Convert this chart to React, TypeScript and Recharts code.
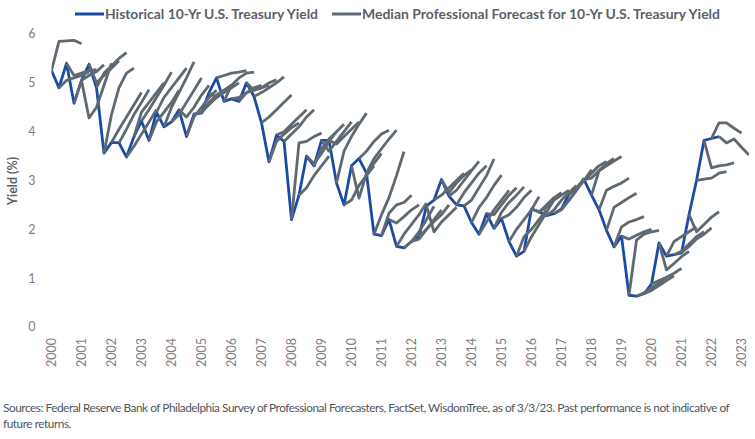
import { LineChart, Line, XAxis, YAxis } from 'recharts'

// year labels sit on every 4th quarter (q = 0, 4, 8, ...)
const yearLabels = [
  '2000', '2001', '2002', '2003', '2004', '2005', '2006', '2007', '2008', '2009', '2010', '2011',
  '2012', '2013', '2014', '2015', '2016', '2017', '2018', '2019', '2020', '2021', '2022', '2023',
]
const yieldTicks = [0, 1, 2, 3, 4, 5, 6]

// quarter-end 10-yr yield, one value per quarter
const historical = [
  5.25, 4.9, 5.4, 4.58, 5.05, 5.38, 4.9, 3.56, 3.78, 3.77, 3.48, 3.9,
  4.22, 3.82, 4.4, 4.1, 4.2, 4.45, 3.9, 4.36, 4.38, 4.8, 5.1, 4.62,
  4.67, 4.62, 5.0, 4.72, 4.18, 3.38, 3.93, 3.8, 2.2, 2.7, 3.5, 3.3,
  3.82, 3.82, 2.95, 2.5, 3.3, 3.45, 3.15, 1.9, 1.87, 2.2, 1.65, 1.62,
  1.75, 1.85, 2.48, 2.6, 3.02, 2.68, 2.5, 2.48, 2.14, 1.9, 2.32, 2.02,
  2.22, 1.75, 1.45, 1.55, 2.42, 2.36, 2.28, 2.32, 2.42, 2.72, 2.85, 3.02,
  2.7, 2.4, 1.98, 1.64, 1.86, 0.65, 0.63, 0.68, 0.88, 1.72, 1.45, 1.48,
  1.52, 2.3, 3.0, 3.82, 3.86, 3.9,
]

// survey paths: entry s covers quarters s .. s+4
const forecasts = [
  [5.25, 5.85, 5.86, 5.87, 5.8],
  [4.9, 5.05, 5.1, 5.15, 5.22],
  [5.4, 5.15, 5.2, 5.25, 5.27],
  [4.58, 5.05, 5.15, 5.23, 5.37],
  [5.05, 4.28, 4.5, 4.95, 5.4],
  [5.38, 5.0, 5.15, 5.3, 5.45],
  [4.9, 5.2, 5.35, 5.5, 5.62],
  [3.56, 4.35, 4.9, 5.2, 5.3],
  [3.78, 4.05, 4.3, 4.55, 4.8],
  [3.77, 4.05, 4.35, 4.6, 4.86],
  [3.48, 3.7, 3.95, 4.2, 4.45],
  [3.9, 4.4, 4.6, 4.8, 5.0],
  [4.22, 4.45, 4.7, 4.95, 5.22],
  [3.82, 4.2, 4.4, 4.6, 4.85],
  [4.4, 4.7, 4.9, 5.1, 5.3],
  [4.1, 4.5, 4.8, 5.1, 5.43],
  [4.2, 4.35, 4.6, 4.85, 5.1],
  [4.45, 4.3, 4.5, 4.75, 4.95],
  [3.9, 4.3, 4.5, 4.7, 4.85],
  [4.36, 4.4, 4.55, 4.7, 4.85],
  [4.38, 4.6, 4.75, 4.85, 4.95],
  [4.8, 4.7, 4.8, 4.9, 5.0],
  [5.1, 5.15, 5.2, 5.22, 5.25],
  [4.62, 4.95, 5.1, 5.2, 5.22],
  [4.67, 4.7, 4.8, 4.9, 4.95],
  [4.62, 4.8, 4.85, 4.9, 4.95],
  [5.0, 4.85, 4.9, 5.0, 5.06],
  [4.72, 4.8, 4.9, 5.0, 5.12],
  [4.18, 4.3, 4.45, 4.6, 4.75],
  [3.38, 3.8, 3.95, 4.08, 4.18],
  [3.93, 4.0, 4.15, 4.3, 4.45],
  [3.8, 3.95, 4.1, 4.3, 4.45],
  [2.2, 3.77, 3.8, 3.9, 3.97],
  [2.7, 2.85, 3.1, 3.3, 3.5],
  [3.5, 3.35, 3.55, 3.8, 4.0],
  [3.3, 3.65, 3.85, 4.0, 4.15],
  [3.82, 3.6, 3.8, 4.0, 4.2],
  [3.82, 3.75, 3.9, 4.05, 4.2],
  [2.95, 3.6, 3.9, 4.15, 4.38],
  [2.5, 2.6, 2.9, 3.1, 3.3],
  [3.3, 2.64, 3.15, 3.35, 3.55],
  [3.45, 3.6, 3.8, 3.95, 4.03],
  [3.15, 3.45, 3.65, 3.85, 4.03],
  [1.9, 2.3, 2.65, 3.1, 3.59],
  [1.87, 2.33, 2.5, 2.55, 2.7],
  [2.2, 2.13, 2.26, 2.4, 2.5],
  [1.65, 1.9, 2.1, 2.3, 2.54],
  [1.62, 1.75, 1.95, 2.2, 2.47],
  [1.75, 1.8, 2.0, 2.2, 2.4],
  [1.85, 2.0, 2.16, 2.3, 2.5],
  [2.48, 1.95, 2.15, 2.3, 2.45],
  [2.6, 2.7, 2.85, 3.0, 3.15],
  [3.02, 2.75, 2.95, 3.1, 3.22],
  [2.68, 2.8, 3.0, 3.2, 3.39],
  [2.5, 2.75, 2.95, 3.15, 3.3],
  [2.48, 2.6, 2.85, 3.1, 3.44],
  [2.14, 2.45, 2.65, 2.9, 3.11],
  [1.9, 2.15, 2.4, 2.6, 2.8],
  [2.32, 2.3, 2.5, 2.7, 2.85],
  [2.02, 2.35, 2.55, 2.7, 2.87],
  [2.22, 2.3, 2.45, 2.65, 2.8],
  [1.75, 2.0, 2.2, 2.4, 2.67],
  [1.45, 1.85, 2.0, 2.2, 2.4],
  [1.55, 1.85, 2.1, 2.35, 2.6],
  [2.42, 2.35, 2.5, 2.65, 2.75],
  [2.36, 2.45, 2.6, 2.7, 2.8],
  [2.28, 2.4, 2.6, 2.75, 2.9],
  [2.32, 2.4, 2.6, 2.8, 3.05],
  [2.42, 2.6, 2.8, 3.0, 3.22],
  [2.72, 2.85, 3.0, 3.15, 3.3],
  [2.85, 3.0, 3.15, 3.3, 3.39],
  [3.02, 3.05, 3.2, 3.35, 3.45],
  [2.7, 3.2, 3.3, 3.4, 3.49],
  [2.4, 2.8, 2.88, 2.95, 3.05],
  [1.98, 2.45, 2.55, 2.65, 2.74],
  [1.64, 2.05, 2.15, 2.2, 2.26],
  [1.86, 1.8, 1.88, 1.95, 2.0],
  [0.65, 1.78, 1.9, 1.95, 1.98],
  [0.63, 0.7, 0.8, 0.9, 1.0],
  [0.68, 0.75, 0.85, 0.95, 1.05],
  [0.88, 0.95, 1.02, 1.1, 1.2],
  [1.72, 1.17, 1.3, 1.44, 1.55],
  [1.45, 1.75, 1.85, 1.95, 2.05],
  [1.48, 1.55, 1.7, 1.85, 1.95],
  [1.52, 1.65, 1.8, 1.9, 2.03],
  [2.3, 1.95, 2.1, 2.25, 2.36],
  [3.0, 3.03, 3.05, 3.15, 3.18],
  [3.82, 3.26, 3.3, 3.32, 3.36],
  [3.86, 4.18, 4.18, 4.07, 3.97],
  [3.9, 3.77, 3.85, 3.68, 3.52],
]

const BLUE = '#1c4ba6'
const GRAY = '#5f6972'
const TEXT = '#5b6168'
const FONT = 'Lato, "Open Sans", sans-serif'

const historicalData = historical.map((v, q) => ({ q, v }))
const forecastData = forecasts.map((vals, s) => vals.map((v, i) => ({ q: s + i, v })))
const yearTicks = yearLabels.map((_, i) => i * 4)

function YearTick({ x, y, payload }: any) {
  const ty = y + 11
  return (
    <text
      x={x}
      y={ty}
      transform={`rotate(-90 ${x} ${ty})`}
      textAnchor="end"
      dy="0.35em"
      fill="#808080"
      fontSize={12.5}
      fontFamily={FONT}
    >
      {yearLabels[Math.round(payload.value / 4)]}
    </text>
  )
}

export default function App() {
  return (
    <div style={{ position: 'absolute', left: 0, top: 0, width: 755, height: 439, background: '#fff' }}>
      <LineChart width={755} height={439} margin={{ top: 34, right: 6, bottom: 67, left: 21.5 }}>
        <XAxis
          type="number"
          dataKey="q"
          domain={[0, 93]}
          ticks={yearTicks}
          interval={0}
          height={45}
          axisLine={false}
          tickLine={false}
          tickSize={0}
          tickMargin={0}
          tick={<YearTick />}
          allowDataOverflow
        />
        <YAxis
          type="number"
          domain={[0, 6]}
          ticks={yieldTicks}
          width={30}
          axisLine={false}
          tickLine={false}
          tickSize={0}
          tickMargin={16}
          tick={{ fill: '#808080', fontSize: 12.5, fontFamily: FONT }}
        />
        <Line
          data={historicalData}
          dataKey="v"
          stroke={BLUE}
          strokeWidth={2.8}
          strokeLinejoin="round"
          dot={false}
          activeDot={false}
          isAnimationActive={false}
        />
        {forecastData.map((d, s) => (
          <Line
            key={s}
            data={d}
            dataKey="v"
            stroke={GRAY}
            strokeWidth={2.8}
            strokeLinejoin="round"
            dot={false}
            activeDot={false}
            isAnimationActive={false}
          />
        ))}
      </LineChart>
      <svg
        width={755}
        height={439}
        style={{ position: 'absolute', left: 0, top: 0, pointerEvents: 'none' }}
      >
        <g fontFamily={FONT} fontWeight={700} fontSize={13.5} fill={TEXT}>
          <line x1={75} x2={104} y1={14} y2={14} stroke={BLUE} strokeWidth={3} />
          <text x={105} y={14} dy="0.35em" textLength={213} lengthAdjust="spacingAndGlyphs">
            Historical 10-Yr U.S. Treasury Yield
          </text>
          <line x1={332} x2={361} y1={14} y2={14} stroke={GRAY} strokeWidth={3} />
          <text x={362} y={14} dy="0.35em" textLength={358} lengthAdjust="spacingAndGlyphs">
            Median Professional Forecast for 10-Yr U.S. Treasury Yield
          </text>
          <text
            x={13}
            y={181}
            transform="rotate(-90 13 181)"
            textAnchor="middle"
            dy="0.35em"
            fontSize={12.5}
          >
            Yield (%)
          </text>
        </g>
        <g fontFamily={FONT} fontSize={11.8} letterSpacing={-0.45} fill="#50565c">
          <text x={3} y={412}>
            Sources: Federal Reserve Bank of Philadelphia Survey of Professional Forecasters, FactSet, WisdomTree, as of 3/3/23. Past performance is not indicative of
          </text>
          <text x={3} y={428}>
            future returns.
          </text>
        </g>
      </svg>
    </div>
  )
}
